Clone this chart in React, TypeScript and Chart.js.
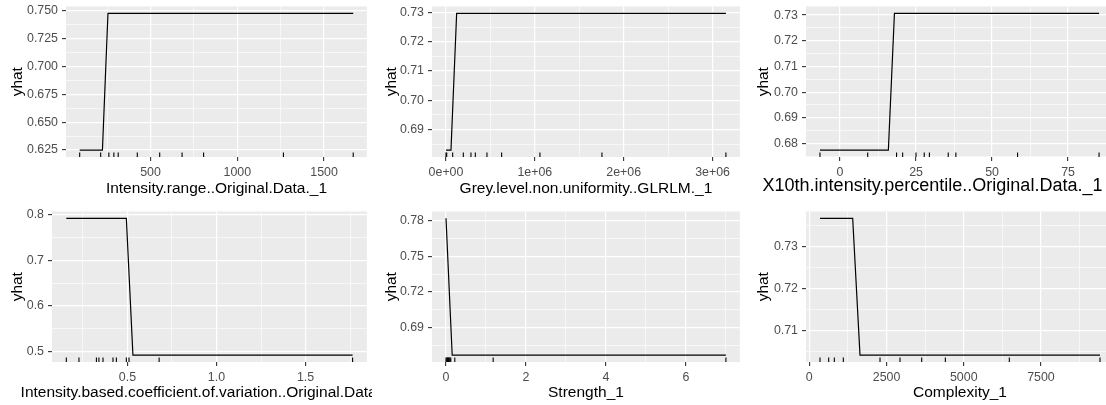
import React, { useEffect, useRef } from "react";
import { Chart, registerables } from "chart.js";

Chart.register(...registerables);

// ---------------- data ----------------
// Panel 1: Intensity.range..Original.Data._1
const rangeTitle = "Intensity.range..Original.Data._1";
const rangeX = [92, 223, 255, 1668];
const rangeYhat = [0.6249, 0.6249, 0.748, 0.748];
const rangeRug = [92, 213, 260, 289, 314, 424, 553, 682, 806, 1266, 1668];
const rangeXTicks = [500, 1000, 1500];
const rangeXLabels = ["500", "1000", "1500"];
const rangeYTicks = [0.625, 0.65, 0.675, 0.7, 0.725, 0.75];
const rangeYLabels = ["0.625", "0.650", "0.675", "0.700", "0.725", "0.750"];

// Panel 2: Grey.level.non.uniformity..GLRLM._1
const greyTitle = "Grey.level.non.uniformity..GLRLM._1";
const greyX = [0, 56000, 120000, 3150000];
const greyYhat = [0.6829, 0.6829, 0.7298, 0.7298];
const greyRug = [0, 8000, 75000, 195000, 281000, 330000, 461000, 626000, 1057000, 1755000, 3150000];
const greyXTicks = [0, 1000000, 2000000, 3000000];
const greyXLabels = ["0e+00", "1e+06", "2e+06", "3e+06"];
const greyYTicks = [0.69, 0.7, 0.71, 0.72, 0.73];
const greyYLabels = ["0.69", "0.70", "0.71", "0.72", "0.73"];

// Panel 3: X10th.intensity.percentile..Original.Data._1
const pctTitle = "X10th.intensity.percentile..Original.Data._1";
const pctX = [-6.6, 15.9, 17.9, 85.2];
const pctYhat = [0.6774, 0.6774, 0.7307, 0.7307];
const pctRug = [-6.6, 9.1, 18.6, 20.6, 25, 27.7, 29.4, 35.6, 38.1, 58.4, 85.2];
const pctXTicks = [0, 25, 50, 75];
const pctXLabels = ["0", "25", "50", "75"];
const pctYTicks = [0.68, 0.69, 0.7, 0.71, 0.72, 0.73];
const pctYLabels = ["0.68", "0.69", "0.70", "0.71", "0.72", "0.73"];

// Panel 4: Intensity.based.coefficient.of.variation..Original.Data._1
const cvTitle = "Intensity.based.coefficient.of.variation..Original.Data._1";
const cvX = [0.157, 0.494, 0.531, 1.764];
const cvYhat = [0.7928, 0.7928, 0.4921, 0.4921];
const cvRug = [0.157, 0.228, 0.326, 0.34, 0.363, 0.419, 0.438, 0.494, 0.509, 0.678, 1.764];
const cvXTicks = [0.5, 1.0, 1.5];
const cvXLabels = ["0.5", "1.0", "1.5"];
const cvYTicks = [0.5, 0.6, 0.7, 0.8];
const cvYLabels = ["0.5", "0.6", "0.7", "0.8"];

// Panel 5: Strength_1
const strTitle = "Strength_1";
const strX = [0, 0.155, 7.0];
const strYhat = [0.7817, 0.6671, 0.6671];
const strRug = [0, 0.02, 0.035, 0.05, 0.065, 0.08, 0.1, 0.12, 0.22, 1.18, 7.0];
const strXTicks = [0, 2, 4, 6];
const strXLabels = ["0", "2", "4", "6"];
const strYTicks = [0.69, 0.72, 0.75, 0.78];
const strYLabels = ["0.69", "0.72", "0.75", "0.78"];

// Panel 6: Complexity_1
const cxTitle = "Complexity_1";
const cxX = [346, 1404, 1641, 9411];
const cxYhat = [0.7367, 0.7367, 0.7041, 0.7041];
const cxRug = [346, 627, 810, 1101, 2289, 2936, 3638, 4404, 6475, 9411];
const cxXTicks = [0, 2500, 5000, 7500];
const cxXLabels = ["0", "2500", "5000", "7500"];
const cxYTicks = [0.71, 0.72, 0.73];
const cxYLabels = ["0.71", "0.72", "0.73"];

// ---------------- layout (page pixels) ----------------
const PAD_TOP = 10;
const PANEL_H = 152;
const X_AXIS_H = 43;
const BOXES = [
  { canvasLeft: 0, canvasRight: 372, panelLeft: 66, panelRight: 367, panelTop: 5, yTitlePad: 8.2, titleSize: 15.5, titleShift: 0, titleBase: 36 },
  { canvasLeft: 373, canvasRight: 745, panelLeft: 432, panelRight: 741, panelTop: 5, yTitlePad: 9.2, titleSize: 15.5, titleShift: 0, titleBase: 36 },
  { canvasLeft: 745, canvasRight: 1125, panelLeft: 806, panelRight: 1113, panelTop: 5, yTitlePad: 9.2, titleSize: 18, titleShift: -27, titleBase: 34 },
  { canvasLeft: 0, canvasRight: 372, panelLeft: 52, panelRight: 367, panelTop: 210, yTitlePad: 8.2, titleSize: 15.5, titleShift: 0, titleBase: 35 },
  { canvasLeft: 373, canvasRight: 745, panelLeft: 432, panelRight: 741, panelTop: 210, yTitlePad: 9.2, titleSize: 15.5, titleShift: 0, titleBase: 35 },
  { canvasLeft: 745, canvasRight: 1125, panelLeft: 806, panelRight: 1114, panelTop: 210, yTitlePad: 9.2, titleSize: 15.5, titleShift: 0, titleBase: 35 },
];

const FONT = '"Liberation Sans", Arial, Helvetica, sans-serif';
const TICK_FONT_SIZE = 12.4;
const Y_TITLE_FONT_SIZE = 15.5;

type Spec = {
  title: string;
  x: number[];
  y: number[];
  rug: number[];
  xTicks: number[];
  xLabels: string[];
  yTicks: number[];
  yLabels: string[];
};

const SPECS: Spec[] = [
  { title: rangeTitle, x: rangeX, y: rangeYhat, rug: rangeRug, xTicks: rangeXTicks, xLabels: rangeXLabels, yTicks: rangeYTicks, yLabels: rangeYLabels },
  { title: greyTitle, x: greyX, y: greyYhat, rug: greyRug, xTicks: greyXTicks, xLabels: greyXLabels, yTicks: greyYTicks, yLabels: greyYLabels },
  { title: pctTitle, x: pctX, y: pctYhat, rug: pctRug, xTicks: pctXTicks, xLabels: pctXLabels, yTicks: pctYTicks, yLabels: pctYLabels },
  { title: cvTitle, x: cvX, y: cvYhat, rug: cvRug, xTicks: cvXTicks, xLabels: cvXLabels, yTicks: cvYTicks, yLabels: cvYLabels },
  { title: strTitle, x: strX, y: strYhat, rug: strRug, xTicks: strXTicks, xLabels: strXLabels, yTicks: strYTicks, yLabels: strYLabels },
  { title: cxTitle, x: cxX, y: cxYhat, rug: cxRug, xTicks: cxXTicks, xLabels: cxXLabels, yTicks: cxYTicks, yLabels: cxYLabels },
];

function expand(vals: number[]): [number, number] {
  const lo = Math.min(...vals);
  const hi = Math.max(...vals);
  const d = (hi - lo) * 0.05;
  return [lo - d, hi + d];
}

function minorsOf(major: number[], lo: number, hi: number): number[] {
  const step = major[1] - major[0];
  const out: number[] = [];
  for (let i = -1; i < major.length; i++) {
    const m = major[0] + (i + 0.5) * step;
    if (m >= lo && m <= hi) out.push(m);
  }
  return out;
}

function axisOptions(major: number[], labels: string[], lo: number, hi: number, fit: (s: any) => void) {
  const step = major[1] - major[0];
  const idx = (v: number) => major.findIndex((m) => Math.abs(m - v) < step * 1e-6);
  const all = [...major, ...minorsOf(major, lo, hi)].sort((a, b) => a - b);
  return {
    type: "linear",
    min: lo,
    max: hi,
    afterBuildTicks: (scale: any) => {
      scale.ticks = all.map((v) => ({ value: v }));
    },
    afterFit: fit,
    border: { display: false },
    grid: {
      color: "#FFFFFF",
      lineWidth: (c: any) => (c.tick && idx(c.tick.value) >= 0 ? 1.2 : 0.6),
      drawTicks: true,
      tickLength: 4,
      tickWidth: 1.1,
      tickColor: (c: any) => (c.tick && idx(c.tick.value) >= 0 ? "#333333" : "rgba(0,0,0,0)"),
    },
    ticks: {
      autoSkip: false,
      maxRotation: 0,
      minRotation: 0,
      padding: 4,
      color: "#4D4D4D",
      font: { family: FONT, size: TICK_FONT_SIZE },
      callback: (v: number) => {
        const i = idx(v);
        return i >= 0 ? labels[i] : "";
      },
    },
  };
}

const panelPlugin = {
  id: "ggpanel",
  beforeDraw(chart: any) {
    const { ctx, chartArea: a } = chart;
    ctx.save();
    ctx.fillStyle = "#EBEBEB";
    ctx.fillRect(a.left, a.top, a.right - a.left, a.bottom - a.top);
    ctx.restore();
  },
  afterDraw(chart: any, _args: any, opts: any) {
    const { ctx, chartArea: a } = chart;
    ctx.save();
    ctx.font = `${opts.size}px ${FONT}`;
    ctx.fillStyle = "#000000";
    ctx.textAlign = "center";
    ctx.textBaseline = "alphabetic";
    ctx.fillText(opts.title, (a.left + a.right) / 2 + opts.shift, a.bottom + opts.base);
    ctx.restore();
  },
};

function Panel({ spec, box }: { spec: Spec; box: (typeof BOXES)[number] }) {
  const ref = useRef<HTMLCanvasElement>(null);
  const width = box.canvasRight - box.canvasLeft;
  const height = PAD_TOP + PANEL_H + X_AXIS_H;
  const yAxisW = box.panelLeft - box.canvasLeft;
  const padRight = box.canvasRight - box.panelRight;

  useEffect(() => {
    const [xLo, xHi] = expand([...spec.x, ...spec.rug]);
    const [yLo, yHi] = expand(spec.y);
    const rugY = yLo + (yHi - yLo) * 0.015;
    const chart = new Chart(ref.current as HTMLCanvasElement, {
      type: "scatter",
      data: {
        datasets: [
          {
            data: spec.rug.map((x) => ({ x, y: rugY })),
            pointStyle: "line",
            pointRotation: 90,
            pointRadius: 2.3,
            pointBorderColor: "#000000",
            pointBorderWidth: 1.1,
            showLine: false,
            clip: false,
          } as any,
          {
            data: spec.x.map((x, i) => ({ x, y: spec.y[i] })),
            showLine: true,
            borderColor: "#000000",
            borderWidth: 1.2,
            pointRadius: 0,
            tension: 0,
            fill: false,
          } as any,
        ],
      },
      options: {
        animation: false,
        responsive: false,
        devicePixelRatio: 1,
        layout: { padding: { top: PAD_TOP, right: padRight, left: 0, bottom: 0 } },
        plugins: {
          legend: { display: false },
          tooltip: { enabled: false },
          ggpanel: { title: spec.title, size: box.titleSize, shift: box.titleShift, base: box.titleBase },
        } as any,
        scales: {
          x: {
            ...axisOptions(spec.xTicks, spec.xLabels, xLo, xHi, (s: any) => {
              s.height = X_AXIS_H;
            }),
            position: "bottom",
          } as any,
          y: {
            ...axisOptions(spec.yTicks, spec.yLabels, yLo, yHi, (s: any) => {
              s.width = yAxisW;
            }),
            position: "left",
            title: {
              display: true,
              text: "yhat",
              color: "#000000",
              font: { family: FONT, size: Y_TITLE_FONT_SIZE },
              padding: { top: box.yTitlePad, bottom: 0 },
            },
          } as any,
        },
      },
      plugins: [panelPlugin],
    });
    return () => chart.destroy();
  }, []);

  return (
    <canvas
      ref={ref}
      width={width}
      height={height}
      style={{
        position: "absolute",
        left: box.canvasLeft,
        top: box.panelTop - PAD_TOP,
        width,
        height,
      }}
    />
  );
}

export default function App() {
  return (
    <div
      style={{
        position: "absolute",
        left: 0,
        top: 0,
        width: 1106,
        height: 405,
        overflow: "hidden",
        background: "#FFFFFF",
      }}
    >
      {SPECS.map((s, i) => (
        <Panel key={i} spec={s} box={BOXES[i]} />
      ))}
    </div>
  );
}
